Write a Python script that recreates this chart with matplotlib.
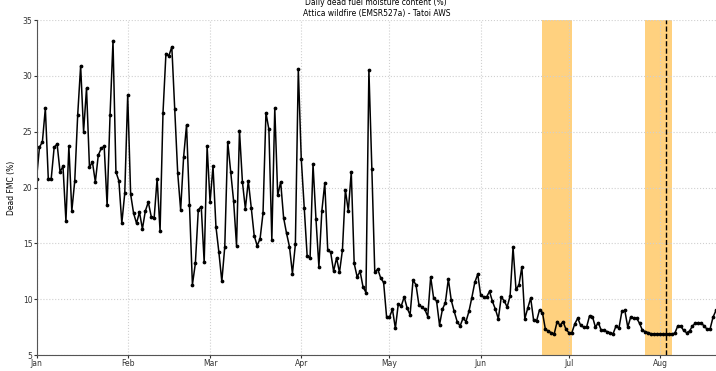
import pandas as pd
import matplotlib
matplotlib.use("Agg")
import matplotlib.pyplot as plt
import matplotlib.dates as mdates

# daily dead FMC (%) per month, 2021
fmc_jan = [20.8, 23.6, 24.1, 27.1, 20.8, 20.8, 23.6, 23.9, 21.4, 21.9, 17.0, 23.7, 17.9, 20.6, 26.5, 30.9,
           25.0, 28.9, 21.8, 22.3, 20.5, 22.9, 23.5, 23.7, 18.4, 26.5, 33.1, 21.4, 20.6, 16.8, 19.5]
fmc_feb = [28.3, 19.4, 17.7, 16.8, 17.8, 16.3, 17.9, 18.7, 17.4, 17.3, 20.8, 16.1, 26.7, 32.0, 31.8, 32.6,
           27.0, 21.3, 18.0, 22.7, 25.6, 18.4, 11.3, 13.2, 18.0, 18.3, 13.3, 23.7]
fmc_mar = [18.7, 21.9, 16.5, 14.2, 11.6, 14.7, 24.1, 21.4, 18.8, 14.8, 25.1, 20.5, 18.1, 20.6, 18.2, 15.7,
           14.8, 15.4, 17.7, 26.7, 25.2, 15.3, 27.1, 19.3, 20.5, 17.3, 15.9, 14.7, 12.3, 14.9, 30.6]
fmc_apr = [22.6, 18.2, 13.9, 13.7, 22.1, 17.2, 12.9, 17.9, 20.4, 14.4, 14.2, 12.5, 13.7, 12.4, 14.4, 19.8,
           17.9, 21.4, 13.2, 12.0, 12.5, 11.1, 10.6, 30.5, 21.7, 12.4, 12.7, 11.9, 11.5, 8.45]
fmc_may = [8.4, 9.1, 7.4, 9.6, 9.4, 10.2, 9.2, 8.6, 11.7, 11.3, 9.5, 9.3, 9.1, 8.45, 12.0, 10.1,
           9.85, 7.7, 9.1, 9.7, 11.8, 9.9, 8.9, 8.0, 7.6, 8.3, 8.0, 8.9, 10.15, 11.5, 12.25]
fmc_jun = [10.35, 10.2, 10.2, 10.7, 9.8, 9.1, 8.25, 10.2, 9.85, 9.3, 10.3, 14.65, 10.9, 11.25, 12.9, 8.25,
           9.2, 10.1, 8.1, 8.05, 9.05, 8.8, 7.3, 7.15, 7.0, 6.9, 8.0, 7.65, 8.0, 7.3]
fmc_jul = [7.0, 7.0, 7.8, 8.3, 7.65, 7.5, 7.5, 8.5, 8.45, 7.5, 7.9, 7.2, 7.2, 7.1, 7.0, 6.9,
           7.6, 7.4, 8.9, 9.0, 7.5, 8.4, 8.3, 8.3, 7.85, 7.2, 7.1, 7.0, 6.9, 6.9, 6.9]
fmc_aug = [6.9, 6.85, 6.85, 6.9, 6.9, 6.95, 7.6, 7.6, 7.2, 7.0, 7.15, 7.6, 7.85, 7.9, 7.85, 7.6,
           7.3, 7.35, 8.4, 9.0]

start_date = "2021-01-01"
spans = [("2021-06-22", "2021-07-02"), ("2021-07-27", "2021-08-05")]
fire_date = "2021-08-03"

fmc = fmc_jan + fmc_feb + fmc_mar + fmc_apr + fmc_may + fmc_jun + fmc_jul + fmc_aug
dates = pd.date_range(start_date, periods=len(fmc), freq="D")

fig = plt.figure(figsize=(7.16, 3.71), dpi=100)
ax = fig.add_axes([0.051, 0.043, 0.949, 0.903])

for s, e in spans:
    ax.axvspan(pd.Timestamp(s), pd.Timestamp(e), color="orange", alpha=0.5, lw=0)
ax.axvline(pd.Timestamp(fire_date), color="black", ls="--", lw=1)

ax.plot(dates, fmc, color="black", lw=1.1, marker="o", markersize=1.7)

ax.set_xlim(dates[0], dates[-1])
ax.set_ylim(5, 35)
ax.set_yticks(range(5, 36, 5))
ax.xaxis.set_major_locator(mdates.MonthLocator())
ax.xaxis.set_major_formatter(mdates.DateFormatter("%b"))
ax.grid(True, ls=":", color="#d0d0d0", lw=0.8)
ax.tick_params(labelsize=5.5, length=2, pad=1, colors="#333333")
ax.set_ylabel("Dead FMC (%)", fontsize=5.5, labelpad=5)
ax.set_title("Daily dead fuel moisture content (%)\nAttica wildfire (EMSR527a) - Tatoi AWS",
             fontsize=5.5, pad=3)
for side in ["top", "right"]:
    ax.spines[side].set_visible(False)
for side in ["left", "bottom"]:
    ax.spines[side].set_color("#555555")

fig.savefig("out.png", dpi=100)
